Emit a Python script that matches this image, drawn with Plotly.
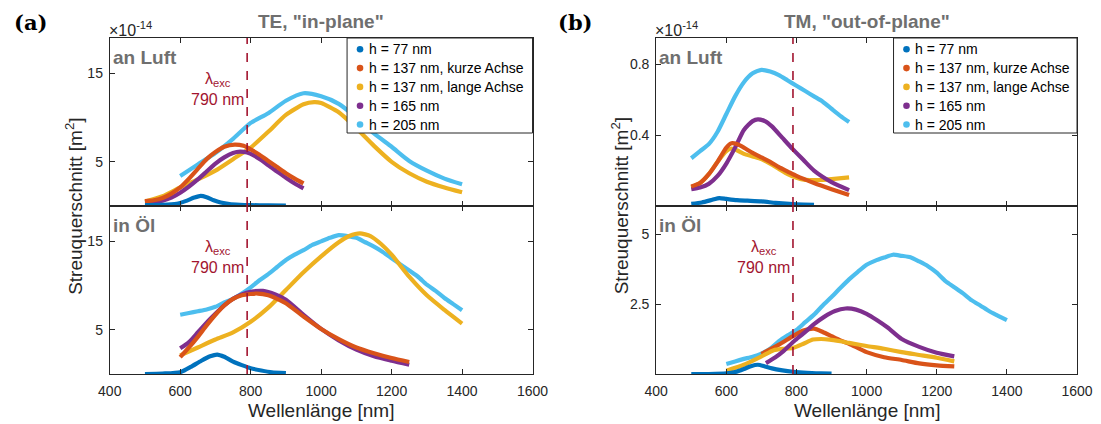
import plotly.graph_objects as go

# ---------------------------------------------------------------- colours
C77 = "#0072BD"
C137K = "#D95319"
C137L = "#EDB120"
C165 = "#7E2F8E"
C205 = "#4DBEEE"
EXC_COLOR = "#A2142F"
LABEL_GRAY = "#6F6F6F"
AXIS_COLOR = "#262626"
SANS = "Liberation Sans, Arial, sans-serif"

EXC_NM = 790  # excitation wavelength

LEGEND_NAMES = ["h = 77 nm", "h = 137 nm, kurze Achse", "h = 137 nm, lange Achse",
                "h = 165 nm", "h = 205 nm"]
LEGEND_COLORS = [C77, C137K, C137L, C165, C205]
X_TICKS = [400, 600, 800, 1000, 1200, 1400, 1600]

# ---------------------------------------------------------------- (a) TE, an Luft  [1e-14 m^2]
a_air_77_wl = [500, 550, 590, 615, 640, 658, 675, 695, 715, 740, 770, 800, 850, 900]
a_air_77_v = [0.1, 0.12, 0.25, 0.55, 0.95, 1.15, 1.0, 0.65, 0.4, 0.22, 0.14, 0.1, 0.06, 0.04]
a_air_137k_wl = [500, 525, 550, 575, 600, 625, 650, 675, 700, 725, 755, 780, 800, 825, 850, 875, 900, 925, 950]
a_air_137k_v = [0.55, 0.65, 0.9, 1.4, 2.1, 3.1, 4.2, 5.3, 6.1, 6.7, 6.95, 6.8, 6.4, 5.8, 5.1, 4.4, 3.7, 3.1, 2.55]
a_air_137l_wl = [500, 550, 600, 650, 700, 750, 800, 850, 900, 950, 980, 1000, 1050, 1100, 1150, 1200, 1250, 1300, 1350, 1400]
a_air_137l_v = [0.5, 1.1, 2.1, 3.0, 4.0, 5.3, 6.6, 8.4, 10.3, 11.5, 11.75, 11.65, 10.6, 8.8, 6.8, 5.0, 3.7, 2.75, 2.1, 1.55]
a_air_165_wl = [500, 525, 550, 575, 600, 625, 650, 675, 700, 725, 750, 770, 790, 810, 830, 850, 875, 900, 925, 950]
a_air_165_v = [0.4, 0.45, 0.6, 0.95, 1.5, 2.2, 3.0, 3.9, 4.8, 5.5, 6.0, 6.15, 6.05, 5.7, 5.2, 4.6, 3.9, 3.2, 2.55, 2.0]
a_air_205_wl = [600, 650, 700, 750, 800, 850, 900, 950, 1000, 1050, 1100, 1150, 1200, 1250, 1300, 1350, 1400]
a_air_205_v = [3.4, 4.7, 6.0, 7.6, 9.4, 10.5, 11.9, 12.75, 12.4, 11.55, 10.0, 8.2, 6.7, 5.1, 4.0, 3.1, 2.45]

# ---------------------------------------------------------------- (a) TE, in Öl
a_oil_77_wl = [500, 550, 600, 630, 660, 685, 705, 725, 750, 775, 800, 830, 860, 900]
a_oil_77_v = [0.0, 0.05, 0.2, 0.8, 1.5, 2.0, 2.2, 1.95, 1.4, 1.0, 0.65, 0.4, 0.2, 0.1]
a_oil_137k_wl = [600, 625, 650, 675, 700, 725, 750, 775, 800, 820, 850, 875, 900, 950, 1000, 1050, 1100, 1150, 1200, 1250]
a_oil_137k_v = [1.9, 3.0, 4.2, 5.5, 6.7, 7.75, 8.5, 8.9, 9.05, 9.1, 8.9, 8.5, 8.0, 6.5, 5.1, 3.95, 3.0, 2.35, 1.8, 1.35]
a_oil_137l_wl = [600, 650, 700, 750, 800, 850, 900, 950, 1000, 1050, 1080, 1110, 1140, 1170, 1200, 1250, 1300, 1350, 1400]
a_oil_137l_v = [2.1, 3.0, 3.9, 4.7, 5.9, 7.5, 9.5, 11.5, 13.3, 14.9, 15.6, 15.9, 15.6, 14.7, 13.5, 11.0, 8.9, 7.25, 5.7]
a_oil_165_wl = [600, 625, 650, 675, 700, 725, 750, 775, 800, 835, 870, 900, 950, 1000, 1050, 1100, 1150, 1200, 1250]
a_oil_165_v = [2.9, 3.6, 4.7, 5.8, 6.8, 7.75, 8.5, 9.0, 9.3, 9.4, 9.0, 8.4, 6.7, 5.1, 3.8, 2.75, 2.0, 1.5, 1.05]
a_oil_205_wl = [600, 625, 650, 675, 700, 725, 750, 775, 800, 825, 850, 875, 900, 925, 950, 975, 1000,
                1025, 1050, 1075, 1100, 1125, 1150, 1175, 1200, 1225, 1250, 1275, 1300, 1325, 1350, 1375, 1400]
a_oil_205_v = [6.7, 6.9, 7.1, 7.3, 7.6, 8.1, 8.5, 9.1, 9.8, 10.6, 11.3, 12.1, 12.9, 13.5, 14.0, 14.6, 15.0,
               15.4, 15.7, 15.6, 15.4, 14.9, 14.4, 13.8, 13.1, 12.4, 11.7, 11.0, 10.1, 9.4, 8.6, 7.9, 7.2]

# ---------------------------------------------------------------- (b) TM, an Luft
b_air_77_wl = [500, 530, 560, 580, 600, 630, 660, 700, 740, 780, 820, 850]
b_air_77_v = [0.012, 0.02, 0.035, 0.045, 0.04, 0.033, 0.03, 0.026, 0.018, 0.012, 0.008, 0.006]
b_air_137k_wl = [500, 525, 550, 575, 600, 615, 630, 650, 675, 700, 725, 750, 775, 800, 850, 900, 950]
b_air_137k_v = [0.11, 0.13, 0.18, 0.25, 0.33, 0.355, 0.35, 0.33, 0.30, 0.275, 0.25, 0.22, 0.195, 0.17, 0.13, 0.095, 0.062]
b_air_137l_wl = [500, 525, 550, 575, 600, 615, 630, 650, 675, 700, 725, 750, 775, 800, 825, 850, 875, 900, 950]
b_air_137l_v = [0.105, 0.13, 0.18, 0.25, 0.31, 0.325, 0.315, 0.295, 0.28, 0.265, 0.24, 0.21, 0.18, 0.16, 0.148, 0.147, 0.148, 0.152, 0.162]
b_air_165_wl = [500, 525, 550, 575, 600, 625, 650, 675, 690, 710, 730, 760, 790, 820, 850, 900, 950]
b_air_165_v = [0.095, 0.105, 0.125, 0.17, 0.24, 0.33, 0.43, 0.48, 0.49, 0.48, 0.45, 0.385, 0.32, 0.26, 0.2, 0.135, 0.09]
b_air_205_wl = [500, 525, 550, 575, 600, 625, 650, 675, 700, 725, 750, 775, 800, 825, 850, 875, 900, 925, 950]
b_air_205_v = [0.27, 0.31, 0.35, 0.42, 0.52, 0.62, 0.70, 0.75, 0.77, 0.76, 0.74, 0.71, 0.68, 0.65, 0.62, 0.59, 0.55, 0.51, 0.475]

# ---------------------------------------------------------------- (b) TM, in Öl
b_oil_77_wl = [500, 550, 600, 625, 650, 670, 690, 710, 730, 760, 790, 830, 870, 900]
b_oil_77_v = [0.0, 0.0, 0.02, 0.07, 0.18, 0.28, 0.33, 0.27, 0.2, 0.13, 0.08, 0.04, 0.02, 0.01]
b_oil_137k_wl = [700, 750, 790, 820, 850, 875, 900, 925, 950, 1000, 1050, 1100, 1150, 1200, 1250]
b_oil_137k_v = [0.72, 1.05, 1.35, 1.55, 1.62, 1.5, 1.35, 1.2, 1.08, 0.78, 0.6, 0.5, 0.38, 0.31, 0.27]
b_oil_137l_wl = [600, 650, 700, 735, 760, 790, 820, 847, 870, 895, 925, 950, 1000, 1050, 1100, 1150, 1200, 1250]
b_oil_137l_v = [0.12, 0.33, 0.63, 0.85, 0.9, 0.93, 1.08, 1.23, 1.25, 1.23, 1.17, 1.11, 1.0, 0.9, 0.78, 0.68, 0.58, 0.45]
b_oil_165_wl = [713, 740, 762, 793, 820, 850, 880, 910, 940, 970, 1000, 1030, 1060, 1100, 1150, 1200, 1250]
b_oil_165_v = [0.39, 0.6, 0.81, 1.17, 1.45, 1.78, 2.05, 2.25, 2.34, 2.3, 2.15, 1.92, 1.66, 1.25, 0.97, 0.76, 0.63]
b_oil_205_wl = [600, 625, 650, 675, 700, 725, 750, 775, 800, 825, 850, 875, 900, 925, 950, 975, 1000,
                1025, 1050, 1075, 1100, 1125, 1150, 1175, 1200, 1225, 1250, 1275, 1300, 1325, 1350, 1375, 1400]
b_oil_205_v = [0.36, 0.45, 0.54, 0.62, 0.73, 0.9, 1.17, 1.38, 1.57, 1.85, 2.12, 2.45, 2.75, 3.07, 3.38, 3.65, 3.9,
               4.05, 4.16, 4.26, 4.22, 4.17, 4.02, 3.85, 3.62, 3.32, 3.1, 2.88, 2.63, 2.44, 2.24, 2.08, 1.92]

# ---------------------------------------------------------------- figure
W, H = 1101, 424
# horizontal placement: layout positions below are given in screen pixels of the
# final picture, where the canvas occupies x = 12 ... 1088
X_OFF, X_SCALE = 12.0, 1076.0 / 1101.0
fig = go.Figure()


def px(xp):
    return max(0.0, (xp - X_OFF) / X_SCALE) / W


def py(yp):
    return 1 - yp / H


def curve(x, y, color, xa, ya):
    fig.add_trace(go.Scatter(x=x, y=y, mode="lines", xaxis=xa, yaxis=ya,
                             line=dict(color=color, width=4.2, shape="spline", smoothing=0.6),
                             showlegend=False, hoverinfo="skip"))


# drawing order: light blue at the back, h = 77 nm in front
panels = [
    ("x", "y", [(a_air_205_wl, a_air_205_v, C205), (a_air_137l_wl, a_air_137l_v, C137L),
                (a_air_165_wl, a_air_165_v, C165), (a_air_137k_wl, a_air_137k_v, C137K),
                (a_air_77_wl, a_air_77_v, C77)]),
    ("x2", "y2", [(a_oil_205_wl, a_oil_205_v, C205), (a_oil_137l_wl, a_oil_137l_v, C137L),
                  (a_oil_165_wl, a_oil_165_v, C165), (a_oil_137k_wl, a_oil_137k_v, C137K),
                  (a_oil_77_wl, a_oil_77_v, C77)]),
    ("x3", "y3", [(b_air_205_wl, b_air_205_v, C205), (b_air_137l_wl, b_air_137l_v, C137L),
                  (b_air_165_wl, b_air_165_v, C165), (b_air_137k_wl, b_air_137k_v, C137K),
                  (b_air_77_wl, b_air_77_v, C77)]),
    ("x4", "y4", [(b_oil_205_wl, b_oil_205_v, C205), (b_oil_137k_wl, b_oil_137k_v, C137K),
                  (b_oil_137l_wl, b_oil_137l_v, C137L), (b_oil_165_wl, b_oil_165_v, C165),
                  (b_oil_77_wl, b_oil_77_v, C77)]),
]
for xa, ya, series in panels:
    for wl, v, col in series:
        curve(wl, v, col, xa, ya)

# axis geometry (pixels -> paper)
XA_DOM = [px(110), px(534)]
XB_DOM = [px(658), px(1080)]
Y_TOP = [py(206), py(38)]
Y_BOT = [py(374), py(206)]

tick_font = dict(family=SANS, size=14, color=AXIS_COLOR)
common = dict(showline=True, linecolor=AXIS_COLOR, linewidth=1, mirror="ticks", ticks="inside",
              ticklen=5, tickcolor=AXIS_COLOR, tickwidth=1, showgrid=False, zeroline=False,
              tickfont=tick_font)
xcommon = dict(range=[400, 1600], tickvals=X_TICKS, ticklabelstandoff=4, **common)
ycommon = dict(ticklabelstandoff=3, **common)

fig.update_layout(
    width=W, height=H, autosize=False, margin=dict(l=0, r=0, t=0, b=0, pad=0),
    paper_bgcolor="white", plot_bgcolor="white", showlegend=False,
    font=dict(family=SANS, color=AXIS_COLOR),
    xaxis=dict(domain=XA_DOM, anchor="y", showticklabels=False, **xcommon),
    yaxis=dict(domain=Y_TOP, anchor="x", range=[0, 19], tickvals=[5, 15], **ycommon),
    xaxis2=dict(domain=XA_DOM, anchor="y2", **xcommon),
    yaxis2=dict(domain=Y_BOT, anchor="x2", range=[0, 19], tickvals=[5, 15], **ycommon),
    xaxis3=dict(domain=XB_DOM, anchor="y3", showticklabels=False, **xcommon),
    yaxis3=dict(domain=Y_TOP, anchor="x3", range=[0, 0.95], tickvals=[0.4, 0.8], **ycommon),
    xaxis4=dict(domain=XB_DOM, anchor="y4", **xcommon),
    yaxis4=dict(domain=Y_BOT, anchor="x4", range=[0, 6], tickvals=[2.5, 5], **ycommon),
)

# excitation wavelength marker
for xa, ya in (("x", "y"), ("x2", "y2"), ("x3", "y3"), ("x4", "y4")):
    fig.add_shape(type="line", xref=xa, yref=f"{ya} domain", x0=EXC_NM, x1=EXC_NM, y0=0, y1=1,
                  line=dict(color=EXC_COLOR, width=1.6, dash="dash"), layer="above")

exc_text = f"λ<sub>exc</sub><br>{EXC_NM} nm"
for xa, ypix in (("x", 89), ("x2", 257), ("x4", 257)):
    fig.add_annotation(x=EXC_NM, xref=xa, y=py(ypix), yref="paper", text=exc_text, showarrow=False,
                       xanchor="right", yanchor="middle", xshift=-1, align="center",
                       font=dict(size=16, color=EXC_COLOR, family=SANS))


# text labels
def label(text, xp, yp, size, color, bold=False, xanchor="left", family=SANS, angle=0):
    fig.add_annotation(x=px(xp), y=py(yp), xref="paper", yref="paper", showarrow=False,
                       text=text, xanchor=xanchor, yanchor="middle", textangle=angle,
                       font=dict(size=size, color=color, family=family,
                                 weight="bold" if bold else "normal"))


# boxed legend in the top-right corner of each upper panel
def legend_box(x_left, x_right):
    fig.add_shape(type="rect", xref="paper", yref="paper", x0=px(x_left), x1=px(x_right),
                  y0=py(133), y1=py(38), fillcolor="white",
                  line=dict(color=AXIS_COLOR, width=1), layer="above")
    for i, (name, col) in enumerate(zip(LEGEND_NAMES, LEGEND_COLORS)):
        yrow = 49.3 + 18.8 * i
        fig.add_shape(type="circle", xref="paper", yref="paper", xsizemode="pixel", ysizemode="pixel",
                      xanchor=px(x_left + 13), yanchor=py(yrow), x0=-3.3, x1=3.3, y0=-3.3, y1=3.3,
                      fillcolor=col, line=dict(width=0), layer="above")
        label(name, x_left + 20, yrow, 14, "black")


legend_box(348, 534)
legend_box(896, 1080)

for x0, x_mid, panel, title in ((110, 322, "(a)", 'TE, "in-plane"'),
                                (658, 869, "(b)", 'TM, "out-of-plane"')):
    label(panel, x0 - 100, 23, 21, "black", bold=True, family="DejaVu Serif, serif")
    label(title, x_mid, 21, 19, LABEL_GRAY, bold=True, xanchor="center")
    label("×10<sup>-14</sup>", x0 - 3, 29, 16, AXIS_COLOR)
    label("an Luft", x0 + 1, 57, 19, LABEL_GRAY, bold=True)
    label("in Öl", x0 + 1, 225, 19, LABEL_GRAY, bold=True)
    label("Wellenlänge [nm]", x_mid, 410, 19, AXIS_COLOR, xanchor="center")
    label("Streuquerschnitt [m<sup>2</sup>]", x0 - 36, 206, 19, AXIS_COLOR, xanchor="center", angle=-90)

fig.write_html("out.html", config={"responsive": False})
